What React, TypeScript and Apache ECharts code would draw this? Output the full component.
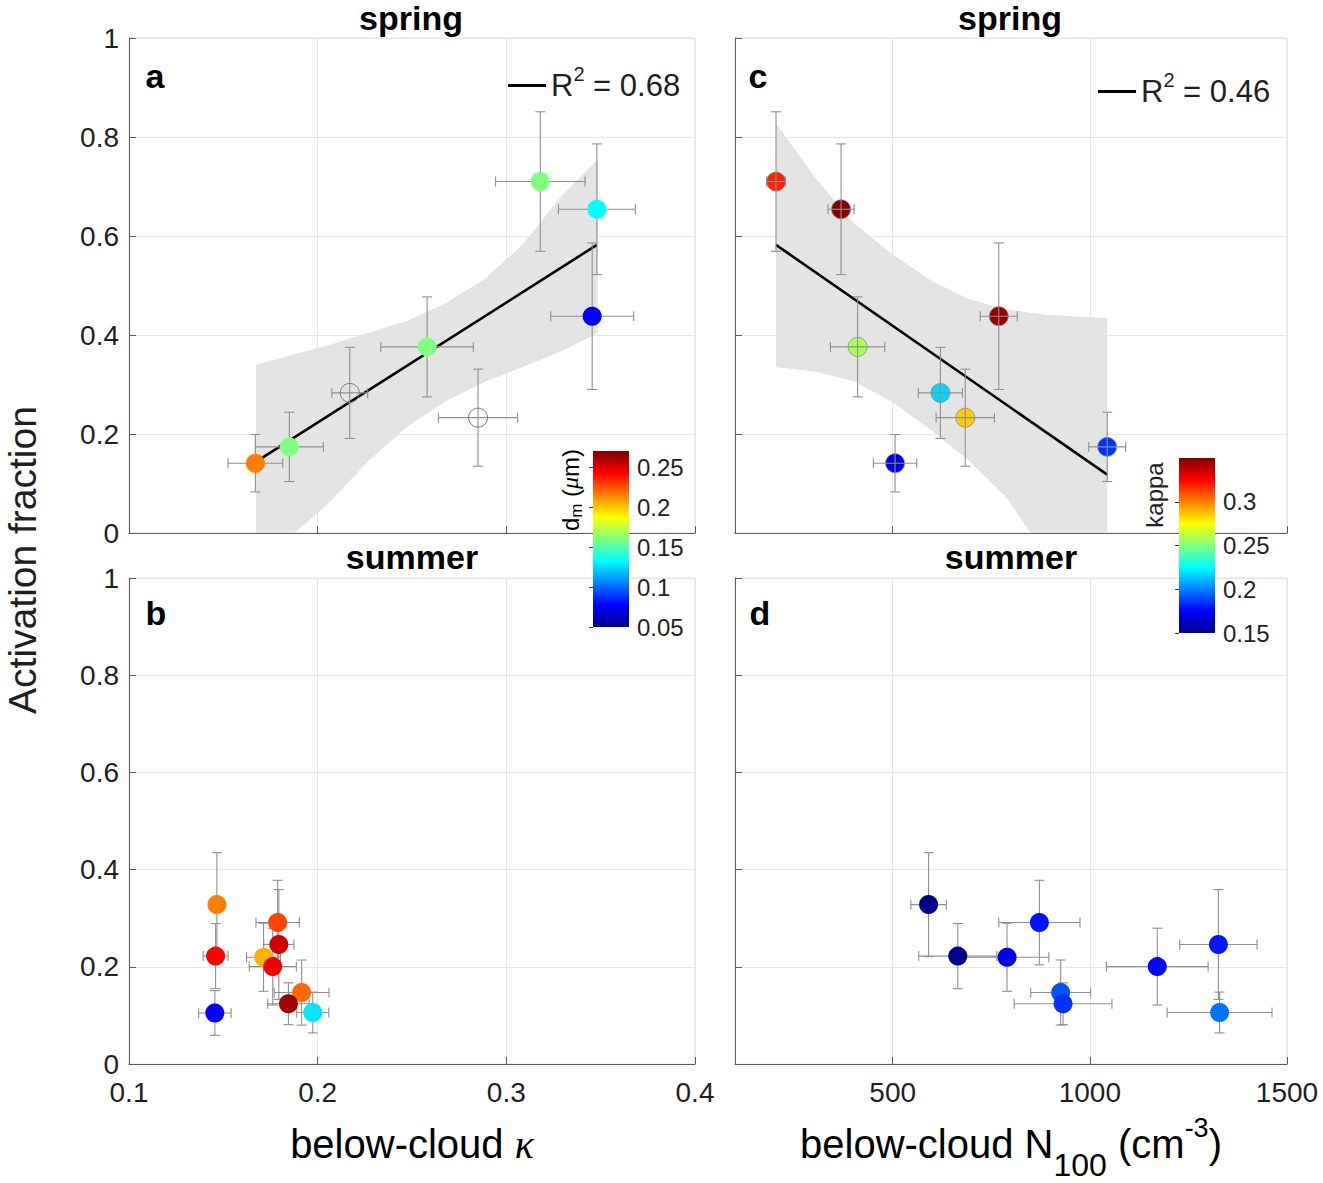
import React, { useEffect, useRef } from "react";
import * as echarts from "echarts";

const FONT = '"Liberation Sans", Arial, Helvetica, sans-serif';
const SERIF = '"Liberation Serif", "DejaVu Serif", serif';
const TXT = "#1f1f1f";
const AXIS = "#5c5c5c";
const GRIDC = "#e6e6e6";
const ERRC = "#8f8f8f";

// ---------- spring samples (panels a and c) ----------
const springKappa = [0.167, 0.185, 0.217, 0.258, 0.285, 0.318, 0.348, 0.3455];
const springKappaErr = [0.0145, 0.018, 0.0095, 0.0245, 0.021, 0.0237, 0.0204, 0.022];
const springAF = [0.141, 0.174, 0.283, 0.376, 0.233, 0.71, 0.654, 0.438];
const springAFErr = [0.058, 0.07, 0.092, 0.101, 0.098, 0.141, 0.132, 0.148];
const springDm: (number | null)[] = [0.215, 0.16, null, 0.16, null, 0.16, 0.1325, 0.0775];
const springN100 = [506, 1044, 621, 411, 684, 204, 369, 769];
const springN100Err = [55, 47, 56, 69, 74, 24, 33, 47];

// ---------- summer samples (panels b and d) ----------
const summerKappa = [0.1466, 0.1459, 0.1455, 0.1788, 0.1794, 0.1713, 0.1762, 0.1915, 0.1845, 0.1974];
const summerKappaErr = [0.003, 0.0066, 0.0086, 0.0115, 0.008, 0.009, 0.0125, 0.0145, 0.011, 0.0085];
const summerAF = [0.328, 0.222, 0.105, 0.291, 0.246, 0.2196, 0.2004, 0.147, 0.124, 0.106];
const summerAFErr = [0.107, 0.067, 0.046, 0.087, 0.113, 0.07, 0.079, 0.067, 0.043, 0.042];
const summerDm = [0.215, 0.2425, 0.0775, 0.228, 0.252, 0.204, 0.245, 0.22, 0.263, 0.127];
const summerN100: (number | null)[] = [591, 665, null, 872, 1326, 790, 1171, 926, 932, 1329];
const summerN100Err: (number | null)[] = [45, 99, null, 103, 98, 106, 129, 76, 124, 133];

// ---------- regression fits and confidence bands ----------
const fitAX = [0.167, 0.348];
const fitAY = [0.143, 0.582];
const bandAX = [0.1673, 0.1878, 0.2061, 0.2265, 0.2469, 0.2673, 0.2878, 0.3082, 0.3286, 0.3484];
const bandAUpper = [0.34, 0.361, 0.38, 0.404, 0.428, 0.463, 0.511, 0.581, 0.678, 0.754];
const bandALower = [0, 0, 0.061, 0.144, 0.213, 0.265, 0.304, 0.335, 0.366, 0.404];

const fitCX = [204, 1044];
const fitCY = [0.582, 0.118];
const bandCX = [204, 306, 403, 500, 597, 694, 791, 850, 888, 1044];
const bandCUpper = [0.828, 0.715, 0.625, 0.5625, 0.51, 0.472, 0.451, 0.445, 0.441, 0.434];
const bandCLower = [0.335, 0.326, 0.306, 0.264, 0.208, 0.146, 0.069, 0, 0, 0];

const r2A = "0.68";
const r2C = "0.46";

// ---------- colour scales ----------
const dmRange = [0.05, 0.27];
const kappaRange = [0.15, 0.35];
const JET = ["#00008F", "#0000FF", "#0080FF", "#00FFFF", "#80FF80", "#FFFF00", "#FF8000", "#FF0000", "#800000"];

const clamp = (v: number, r: number[]) => Math.max(r[0], Math.min(r[1], v));

function errRender(params: any, api: any) {
  const x = api.value(0);
  const y = api.value(1);
  const ex = api.value(2);
  const ey = api.value(3);
  const l = api.coord([x - ex, y]);
  const r = api.coord([x + ex, y]);
  const t = api.coord([x, y + ey]);
  const b = api.coord([x, y - ey]);
  const c = 5;
  const style = { stroke: ERRC, lineWidth: 1.1 };
  return {
    type: "group",
    children: [
      { type: "line", shape: { x1: l[0], y1: l[1], x2: r[0], y2: r[1] }, style },
      { type: "line", shape: { x1: l[0], y1: l[1] - c, x2: l[0], y2: l[1] + c }, style },
      { type: "line", shape: { x1: r[0], y1: r[1] - c, x2: r[0], y2: r[1] + c }, style },
      { type: "line", shape: { x1: t[0], y1: t[1], x2: b[0], y2: b[1] }, style },
      { type: "line", shape: { x1: t[0] - c, y1: t[1], x2: t[0] + c, y2: t[1] }, style },
      { type: "line", shape: { x1: b[0] - c, y1: b[1], x2: b[0] + c, y2: b[1] }, style },
    ],
  };
}

function bandRender(xs: number[], lo: number[], hi: number[]) {
  return (params: any, api: any) => {
    if (params.dataIndex !== 0) return null;
    const pts: number[][] = [];
    xs.forEach((x, i) => pts.push(api.coord([x, hi[i]])));
    for (let i = xs.length - 1; i >= 0; i--) pts.push(api.coord([xs[i], lo[i]]));
    return { type: "polygon", shape: { points: pts }, style: { fill: "#e4e4e4" } };
  };
}

function colorbarRender(params: any, api: any) {
  const p1 = api.coord([0, api.value(2)]);
  const p2 = api.coord([1, api.value(1)]);
  const stops = JET.map((c, i) => ({ offset: 1 - i / (JET.length - 1), color: c })).reverse();
  return {
    type: "rect",
    shape: { x: p1[0], y: p1[1], width: p2[0] - p1[0], height: p2[1] - p1[1] },
    style: { fill: new echarts.graphic.LinearGradient(0, 0, 0, 1, stops) },
  };
}

function buildErr(xs: (number | null)[], xe: (number | null)[], ys: number[], ye: number[]) {
  const out: number[][] = [];
  xs.forEach((x, i) => {
    if (x == null || xe[i] == null) return;
    out.push([x, ys[i], xe[i] as number, ye[i]]);
  });
  return out;
}

const lineStyle = { color: AXIS, width: 1 };
function xAxisDef(gridIndex: number, labels: boolean, kind: "k" | "n") {
  const base: any = {
    type: "value",
    gridIndex,
    axisLine: { show: true, onZero: false, lineStyle },
    axisTick: { show: true, inside: true, length: 7, lineStyle },
    axisLabel: {
      show: labels, fontSize: 28, color: TXT, fontFamily: FONT, margin: 14,
      showMinLabel: kind === "k", formatter: (v: number) => String(v),
    },
    splitLine: { show: true, lineStyle: { color: GRIDC, width: 1 } },
  };
  if (kind === "k") {
    base.min = 0.1;
    base.max = 0.4;
    base.interval = 0.1;
  } else {
    base.min = 100;
    base.max = 1500;
    base.splitNumber = 3;
  }
  return base;
}
function yAxisDef(gridIndex: number, labels: boolean) {
  return {
    type: "value",
    gridIndex,
    min: 0,
    max: 1,
    interval: 0.2,
    axisLine: { show: true, onZero: false, lineStyle },
    axisTick: { show: true, inside: true, length: 7, lineStyle },
    axisLabel: { show: labels, fontSize: 28, color: TXT, fontFamily: FONT, margin: 10 },
    splitLine: { show: true, lineStyle: { color: GRIDC, width: 1 } },
  };
}
function cbYAxis(gridIndex: number, range: number[]) {
  return {
    type: "value",
    gridIndex,
    position: "right",
    min: range[0],
    max: range[1],
    interval: 0.05,
    axisLine: { show: false },
    axisTick: { show: true, inside: true, length: 4, lineStyle: { color: "#333", width: 1 } },
    axisLabel: { show: true, fontSize: 24, color: TXT, fontFamily: FONT, margin: 8, showMaxLabel: false },
    splitLine: { show: false },
    z: 10,
  };
}

function buildOption() {
  const series: any[] = [];
  const dot = { opacity: 1 };

  // ---- panel a ----
  series.push({
    type: "custom", xAxisIndex: 0, yAxisIndex: 0, silent: true, z: 1,
    data: bandAX.map((x, i) => [x, bandALower[i], bandAUpper[i]]),
    encode: { x: 0, y: [1, 2] },
    renderItem: bandRender(bandAX, bandALower, bandAUpper),
  });
  series.push({
    type: "line", name: "fitA", xAxisIndex: 0, yAxisIndex: 0, z: 2,
    data: fitAX.map((x, i) => [x, fitAY[i]]),
    symbol: "none", lineStyle: { color: "#000", width: 2.6 }, itemStyle: { color: "#000" },
  });
  series.push({
    type: "custom", xAxisIndex: 0, yAxisIndex: 0, z: 3, silent: true,
    data: buildErr(springKappa, springKappaErr, springAF, springAFErr),
    encode: { x: 0, y: 1 }, renderItem: errRender,
  });
  const idxA = series.length;
  series.push({
    type: "scatter", xAxisIndex: 0, yAxisIndex: 0, z: 4, symbolSize: 19, itemStyle: dot,
    data: springKappa
      .map((x, i) => (springDm[i] == null ? null : [x, springAF[i], clamp(springDm[i] as number, dmRange)]))
      .filter((d) => d != null),
  });
  series.push({
    type: "scatter", xAxisIndex: 0, yAxisIndex: 0, z: 4, symbolSize: 19,
    itemStyle: { color: "rgba(255,255,255,0)", borderColor: "#7a7a7a", borderWidth: 1, opacity: 1 },
    data: springKappa.map((x, i) => (springDm[i] == null ? [x, springAF[i]] : null)).filter((d) => d != null),
  });

  // ---- panel b ----
  series.push({
    type: "custom", xAxisIndex: 1, yAxisIndex: 1, z: 3, silent: true,
    data: buildErr(summerKappa, summerKappaErr, summerAF, summerAFErr),
    encode: { x: 0, y: 1 }, renderItem: errRender,
  });
  const idxB = series.length;
  series.push({
    type: "scatter", xAxisIndex: 1, yAxisIndex: 1, z: 4, symbolSize: 19, itemStyle: dot,
    data: summerKappa.map((x, i) => [x, summerAF[i], clamp(summerDm[i], dmRange)]),
  });

  // ---- panel c ----
  series.push({
    type: "custom", xAxisIndex: 2, yAxisIndex: 2, silent: true, z: 1,
    data: bandCX.map((x, i) => [x, bandCLower[i], bandCUpper[i]]),
    encode: { x: 0, y: [1, 2] },
    renderItem: bandRender(bandCX, bandCLower, bandCUpper),
  });
  series.push({
    type: "line", name: "fitC", xAxisIndex: 2, yAxisIndex: 2, z: 2,
    data: fitCX.map((x, i) => [x, fitCY[i]]),
    symbol: "none", lineStyle: { color: "#000", width: 2.6 }, itemStyle: { color: "#000" },
  });
  const idxC = series.length;
  series.push({
    type: "scatter", xAxisIndex: 2, yAxisIndex: 2, z: 3, symbolSize: 19,
    itemStyle: { borderColor: "#8a8a8a", borderWidth: 0.8, opacity: 1 },
    data: springN100.map((x, i) => [x, springAF[i], clamp(springKappa[i], kappaRange)]),
  });
  series.push({
    type: "custom", xAxisIndex: 2, yAxisIndex: 2, z: 4, silent: true,
    data: buildErr(springN100, springN100Err, springAF, springAFErr),
    encode: { x: 0, y: 1 }, renderItem: errRender,
  });

  // ---- panel d ----
  series.push({
    type: "custom", xAxisIndex: 3, yAxisIndex: 3, z: 3, silent: true,
    data: buildErr(summerN100, summerN100Err, summerAF, summerAFErr),
    encode: { x: 0, y: 1 }, renderItem: errRender,
  });
  const idxD = series.length;
  series.push({
    type: "scatter", xAxisIndex: 3, yAxisIndex: 3, z: 4, symbolSize: 19, itemStyle: dot,
    data: summerN100
      .map((x, i) => (x == null ? null : [x, summerAF[i], clamp(summerKappa[i], kappaRange)]))
      .filter((d) => d != null),
  });

  // ---- colour bars ----
  series.push({
    type: "custom", xAxisIndex: 4, yAxisIndex: 4, z: 6, silent: true,
    data: [[0, dmRange[0], dmRange[1]]], encode: { x: 0, y: [1, 2] }, renderItem: colorbarRender,
  });
  series.push({
    type: "custom", xAxisIndex: 5, yAxisIndex: 5, z: 6, silent: true,
    data: [[0, kappaRange[0], kappaRange[1]]], encode: { x: 0, y: [1, 2] }, renderItem: colorbarRender,
  });

  const gridCommon = { show: true, borderColor: "#e2e2e2", borderWidth: 1, backgroundColor: "rgba(0,0,0,0)", containLabel: false };
  const legendRich = {
    r: { fontSize: 31, fontFamily: FONT, color: TXT },
    s: { fontSize: 20, fontFamily: FONT, color: TXT, padding: [0, 0, 23, 0] },
  };

  const titleStyle = (text: string, x: number, y: number) => ({
    type: "text", x, y, z: 20,
    style: { text, fontSize: 34, fontWeight: "bold", fontFamily: FONT, fill: "#000", textAlign: "center", textVerticalAlign: "middle" },
  });

  const legendCommon = {
    itemWidth: 38, itemHeight: 3, icon: "rect", selectedMode: false,
    textStyle: { rich: legendRich },
  };

  return {
    animation: false,
    backgroundColor: "#ffffff",
    grid: [
      { ...gridCommon, left: 129, top: 38, width: 566, height: 495 },
      { ...gridCommon, left: 129, top: 578, width: 566, height: 486 },
      { ...gridCommon, left: 735, top: 38, width: 552, height: 495 },
      { ...gridCommon, left: 735, top: 578, width: 552, height: 486 },
      { left: 593, top: 451, width: 36, height: 176, show: false, z: 10 },
      { left: 1179, top: 458, width: 36, height: 175, show: false, z: 10 },
    ],
    xAxis: [
      xAxisDef(0, false, "k"),
      xAxisDef(1, true, "k"),
      xAxisDef(2, false, "n"),
      xAxisDef(3, true, "n"),
      { type: "value", gridIndex: 4, min: 0, max: 1, show: false },
      { type: "value", gridIndex: 5, min: 0, max: 1, show: false },
    ],
    yAxis: [
      yAxisDef(0, true),
      yAxisDef(1, true),
      yAxisDef(2, false),
      yAxisDef(3, false),
      cbYAxis(4, dmRange),
      cbYAxis(5, kappaRange),
    ],
    visualMap: [
      { type: "continuous", show: false, seriesIndex: [idxA, idxB], dimension: 2, min: dmRange[0], max: dmRange[1], inRange: { color: JET } },
      { type: "continuous", show: false, seriesIndex: [idxC, idxD], dimension: 2, min: kappaRange[0], max: kappaRange[1], inRange: { color: JET } },
    ],
    legend: [
      { ...legendCommon, data: ["fitA"], left: 503, top: 59, formatter: () => `{r|R}{s|2}{r| = ${r2A}}` },
      { ...legendCommon, data: ["fitC"], left: 1093, top: 65, formatter: () => `{r|R}{s|2}{r| = ${r2C}}` },
    ],
    graphic: [
      titleStyle("spring", 411, 18),
      titleStyle("summer", 412, 557),
      titleStyle("spring", 1010, 18),
      titleStyle("summer", 1011, 557),
      titleStyle("a", 155, 76),
      titleStyle("b", 156, 613),
      titleStyle("c", 758, 76),
      titleStyle("d", 760, 613),
      {
        type: "text", x: 22, y: 560, rotation: Math.PI / 2, z: 20,
        style: { text: "Activation fraction", fontSize: 39, fontFamily: FONT, fill: TXT, textAlign: "center", textVerticalAlign: "middle" },
      },
      {
        type: "text", x: 412, y: 1144, z: 20,
        style: {
          text: "{n|below-cloud }{k|κ}", textAlign: "center", textVerticalAlign: "middle",
          rich: {
            n: { fontSize: 40, fontFamily: FONT, color: TXT },
            k: { fontSize: 40, fontFamily: SERIF, fontStyle: "italic", color: TXT },
          },
        },
      },
      {
        type: "text", x: 1011, y: 1144, z: 20,
        style: {
          text: "{n|below-cloud N}{sb|100}{n| (cm}{sp|-3}{n|)}", textAlign: "center", textVerticalAlign: "middle",
          rich: {
            n: { fontSize: 40, fontFamily: FONT, color: TXT },
            sb: { fontSize: 32, lineHeight: 28, fontFamily: FONT, color: TXT, padding: [42, 0, 0, 0] },
            sp: { fontSize: 27, lineHeight: 24, fontFamily: FONT, color: TXT, padding: [0, 0, 32, 0] },
          },
        },
      },
      {
        type: "text", x: 570, y: 490, rotation: Math.PI / 2, z: 20,
        style: {
          text: "{n|d}{sb|m}{n| (}{g|μ}{n|m)}", textAlign: "center", textVerticalAlign: "middle",
          rich: {
            n: { fontSize: 24, fontFamily: FONT, color: TXT },
            sb: { fontSize: 17, fontFamily: FONT, color: TXT, padding: [12, 0, 0, 0] },
            g: { fontSize: 24, fontFamily: SERIF, fontStyle: "italic", color: TXT },
          },
        },
      },
      {
        type: "text", x: 1154, y: 495, rotation: Math.PI / 2, z: 20,
        style: { text: "kappa", fontSize: 24, fontFamily: FONT, fill: TXT, textAlign: "center", textVerticalAlign: "middle" },
      },
    ],
    series,
  };
}

export default function App() {
  const ref = useRef<HTMLDivElement>(null);
  useEffect(() => {
    if (!ref.current) return;
    const chart = echarts.init(ref.current, null, { renderer: "svg" });
    chart.setOption(buildOption() as any);
    return () => chart.dispose();
  }, []);
  return (
    <div
      ref={ref}
      style={{ position: "absolute", left: 0, top: 0, width: 1323, height: 1183, background: "#fff" }}
    />
  );
}
